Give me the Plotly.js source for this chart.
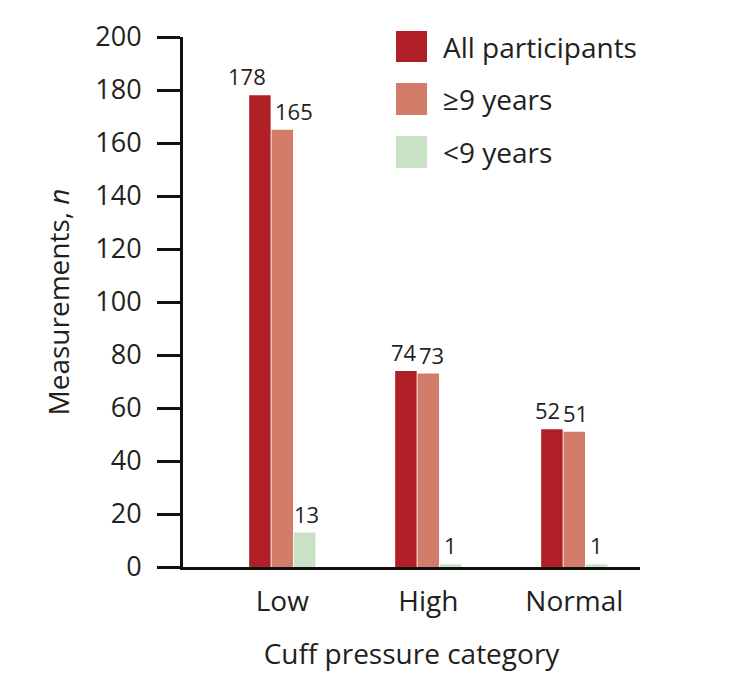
<!DOCTYPE html>
<html>
<head>
<meta charset="utf-8">
<script src="https://cdn.plot.ly/plotly-3.0.1.min.js"></script>
<style>html,body{margin:0;padding:0;background:#fff;}#chart{width:732px;height:688px;}</style>
</head>
<body>
<div id="chart"></div>
<script>
// Data
const categories = ["Low", "High", "Normal"];
const seriesNames = ["All participants", "\u22659 years", "<9 years"];
const allParticipants = [178, 74, 52];
const nineOrOlder = [165, 73, 51];
const underNine = [13, 1, 1];
const yTicks = [0, 20, 40, 60, 80, 100, 120, 140, 160, 180, 200];

// Styles
const colors = ["#B01F26", "#D27C69", "#C9E2C5"];
const FONT = "Open Sans, sans-serif";
const TXT = "#231F20";
const BARGAP = 0.54;
// horizontal nudges (px) of value labels, [series][category]
const labelNudge = [[-13, -2, -4], [12, 3, 1], [2, 0, 0]];

const seriesValues = [allParticipants, nineOrOlder, underNine];
const traces = seriesValues.map((vals, i) => ({
  type: "bar",
  name: seriesNames[i],
  x: categories,
  y: vals,
  marker: { color: colors[i], line: { width: 0 } },
  hoverinfo: "skip",
  showlegend: false
}));

// plot area in pixels
const L = 183, R = 640, T = 37, B = 567;
const W = 732, H = 688;
const px = x => (x - L) / (R - L);
const py = y => (B - y) / (B - T);

// value labels placed at the bar positions (category index + group slot offset)
const slot = (1 - BARGAP) / seriesValues.length;
const valueLabels = [];
seriesValues.forEach((vals, s) => {
  vals.forEach((v, c) => {
    valueLabels.push({
      xref: "x", yref: "y",
      x: c + (s - (seriesValues.length - 1) / 2) * slot,
      y: v,
      xanchor: "center", yanchor: "bottom",
      xshift: labelNudge[s][c], yshift: 2,
      text: String(v), showarrow: false,
      font: { family: FONT, size: 22, color: TXT }
    });
  });
});

const legendRows = [[31, 62], [83, 115], [136, 168]];
const shapes = legendRows.map((r, i) => ({
  type: "rect", xref: "paper", yref: "paper",
  x0: px(396), x1: px(427), y0: py(r[1]), y1: py(r[0]),
  fillcolor: colors[i], line: { width: 0 }
}));
const legendText = legendRows.map((r, i) => ({
  xref: "paper", yref: "paper",
  x: px(441), y: py((r[0] + r[1]) / 2),
  xanchor: "left", yanchor: "middle",
  text: seriesNames[i], showarrow: false,
  font: { family: FONT, size: 28, color: TXT }
}));

const layout = {
  width: W, height: H,
  margin: { l: L, r: W - R, t: T, b: H - B, pad: 0 },
  paper_bgcolor: "#fff", plot_bgcolor: "#fff",
  barmode: "group",
  bargap: BARGAP,
  bargroupgap: 0.04,
  showlegend: false,
  font: { family: FONT, color: TXT },
  xaxis: {
    type: "category",
    range: [-0.68, 2.45],
    showline: true, linecolor: "#111", linewidth: 3,
    ticks: "outside", ticklen: 7, tickcolor: "rgba(0,0,0,0)",
    tickfont: { family: FONT, size: 28, color: TXT },
    showgrid: false, zeroline: false,
    title: { text: "Cuff pressure category", font: { family: FONT, size: 28, color: TXT }, standoff: 27 }
  },
  yaxis: {
    range: [0, 200],
    tickvals: yTicks,
    showline: true, linecolor: "#111", linewidth: 3,
    ticks: "outside", ticklen: 23, tickwidth: 3, tickcolor: "#111",
    tickfont: { family: FONT, size: 27, color: TXT },
    ticklabelstandoff: 10,
    showgrid: false, zeroline: false,
    title: { text: "Measurements, <i>n</i>", font: { family: FONT, size: 28, color: TXT }, standoff: 18 }
  },
  shapes: shapes,
  annotations: valueLabels.concat(legendText)
};

Plotly.newPlot("chart", traces, layout, { staticPlot: true, displayModeBar: false });
</script>
</body>
</html>
